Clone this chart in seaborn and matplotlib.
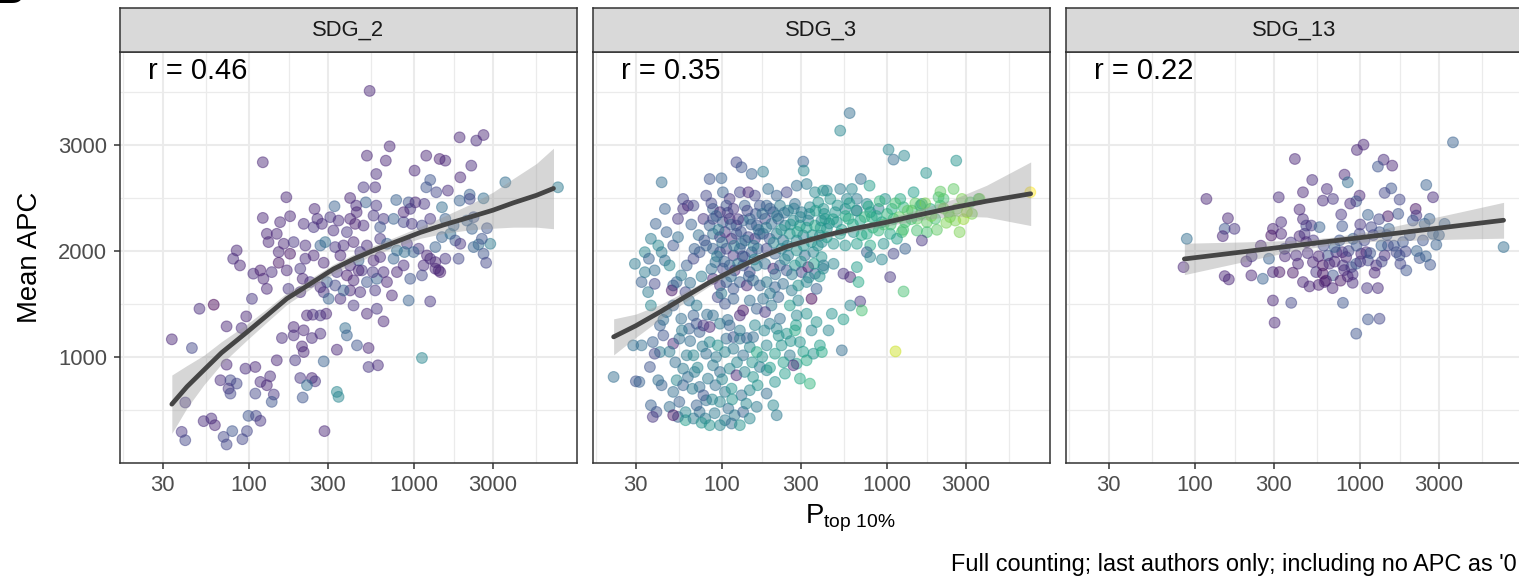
import matplotlib
matplotlib.use("Agg")
import matplotlib.pyplot as plt
from matplotlib.ticker import NullFormatter
import seaborn as sns
import pandas as pd

# ---- data ----
facet_names = ["SDG_2", "SDG_3", "SDG_13"]
r_labels = ["r = 0.46", "r = 0.35", "r = 0.22"]

sdg2_x = [537, 1884, 2377, 2630, 710, 517, 673, 121, 1183, 1425,
          1543, 1005, 2217, 1902, 589, 1250, 1183, 493, 580, 3565,
          7430, 1361, 1600, 2168, 2168, 2630, 168, 409, 509, 589,
          778, 925, 1016, 1151, 1473, 1884, 249, 329, 445, 121,
          177, 154, 214, 246, 276, 310, 348, 409, 439, 493,
          567, 652, 750, 863, 968, 1250, 1543, 1733, 2240, 2761,
          128, 147, 162, 131, 186, 219, 270, 289, 332, 373,
          429, 517, 622, 684, 786, 904, 1064, 1343, 1473, 1656,
          1775, 1902, 2455, 2891, 2630, 2727, 1858, 1543, 1250, 1343,
          1140, 1439, 1114, 84, 80, 88, 106, 117, 122, 137,
          169, 177, 151, 204, 219, 234, 211, 283, 296, 340,
          391, 429, 482, 517, 594, 652, 684, 786, 863, 946,
          128, 104, 173, 204, 283, 303, 357, 409, 471, 580,
          733, 429, 517, 594, 652, 925, 1250, 61, 50, 96,
          73, 90, 34, 45, 186, 214, 158, 186, 240, 270,
          209, 214, 224, 243, 270, 293, 382, 391, 450, 529,
          340, 1114, 529, 603, 190, 147, 109, 95, 73, 283,
          134, 117, 128, 67, 77, 75, 77, 84, 204, 240,
          251, 224, 340, 348, 109, 141, 137, 211, 41, 53,
          59, 62, 39, 41, 99, 110, 117, 79, 70, 73,
          91, 97, 286, 1195, 1343, 1406, 2291, 2570, 2291, 2085,
          991, 873, 750, 622, 567, 460, 471, 357, 409, 460,
          561, 246, 373, 332, 270, 151, 259, 448, 324, 391,
          946, 1114, 622, 863]
sdg2_y = [3510, 3072, 3041, 3094, 2987, 2899, 2852, 2837, 2899, 2868,
          2852, 2758, 2805, 2695, 2726, 2670, 2601, 2601, 2601, 2648,
          2601, 2554, 2570, 2532, 2491, 2497, 2507, 2500, 2459, 2428,
          2481, 2459, 2459, 2444, 2413, 2475, 2397, 2422, 2428, 2312,
          2328, 2272, 2256, 2225, 2256, 2319, 2287, 2303, 2256, 2240,
          2334, 2303, 2303, 2272, 2256, 2303, 2303, 2240, 2209, 2215,
          2162, 2162, 2068, 2084, 2084, 2052, 2052, 2084, 2037, 2052,
          2084, 2052, 2115, 2068, 2005, 2068, 2021, 2037, 2131, 2162,
          2099, 2068, 2062, 2068, 1974, 1889, 1927, 1927, 1927, 1833,
          1864, 1801, 1770, 2005, 1927, 1864, 1786, 1817, 1738, 1801,
          1817, 1974, 1889, 1833, 1927, 1707, 1738, 1889, 1707, 1801,
          1770, 1723, 1817, 1707, 1738, 1801, 1707, 1801, 1864, 1738,
          1643, 1549, 1643, 1612, 1612, 1549, 1549, 1628, 1612, 1628,
          1581, 1486, 1408, 1455, 1336, 1533, 1524, 1493, 1455, 1383,
          1289, 1273, 1167, 1085, 1283, 1252, 1179, 1204, 1179, 1220,
          1100, 1047, 1392, 1399, 1392, 1408, 1273, 1204, 1110, 1085,
          1069, 991, 906, 922, 969, 969, 906, 890, 928, 959,
          818, 765, 734, 781, 781, 702, 655, 749, 802, 802,
          771, 734, 671, 624, 655, 646, 577, 618, 571, 395,
          420, 357, 294, 215, 445, 445, 398, 301, 247, 175,
          225, 301, 301, 1958, 1895, 1817, 2037, 2115, 2319, 2287,
          1990, 1990, 1927, 1943, 1911, 1911, 1990, 1958, 1864, 1817,
          1801, 1958, 1628, 1675, 1659, 1990, 2303, 2366, 2193, 2178,
          2397, 2240, 2225, 2366]
sdg2_c = [.10, .10, .12, .10, .10, .10, .10, .10, .10, .08,
          .10, .10, .12, .10, .12, .25, .25, .15, .12, .35,
          .40, .20, .12, .30, .20, .35, .10, .10, .30, .15,
          .30, .25, .10, .15, .35, .30, .10, .30, .12, .10,
          .10, .10, .12, .15, .12, .15, .12, .10, .08, .12,
          .15, .15, .30, .20, .15, .15, .30, .30, .30, .25,
          .10, .10, .10, .10, .15, .12, .30, .35, .15, .12,
          .10, .12, .15, .30, .35, .15, .15, .30, .30, .35,
          .25, .15, .35, .40, .25, .20, .20, .15, .12, .10,
          .12, .08, .20, .10, .12, .10, .12, .08, .10, .12,
          .10, .05, .05, .15, .12, .15, .10, .10, .30, .15,
          .08, .10, .15, .25, .30, .12, .10, .10, .12, .25,
          .10, .15, .15, .12, .15, .30, .12, .10, .12, .15,
          .10, .15, .10, .15, .10, .30, .15, .00, .12, .10,
          .10, .12, .10, .20, .10, .10, .12, .12, .12, .12,
          .10, .10, .10, .12, .15, .10, .35, .30, .25, .10,
          .10, .45, .15, .12, .15, .10, .10, .12, .10, .30,
          .12, .12, .10, .12, .20, .15, .20, .20, .15, .10,
          .15, .35, .45, .45, .20, .15, .25, .25, .15, .12,
          .12, .10, .15, .20, .25, .20, .15, .25, .20, .20,
          .20, .20, .10, .10, .10, .10, .30, .25, .25, .30,
          .30, .35, .30, .12, .10, .30, .15, .10, .12, .10,
          .15, .10, .30, .20, .12, .10, .12, .10, .12, .15,
          .15, .20, .25, .10]

sdg3_x = [22, 29.6, 34, 32.5, 34, 39, 35.6, 39, 30, 31.5,
          28.9, 32.5, 38, 42, 39, 36.5, 37, 40, 38, 43,
          41, 37, 43, 39.6, 37, 36, 41, 43, 45, 48,
          50.5, 54, 58, 62, 67, 54, 46, 50.5, 49.5, 53,
          56.5, 61, 67, 73, 80, 60, 63, 70, 67, 56.5,
          50.5, 46, 42, 44, 50.5, 55, 63, 70, 73, 61,
          67, 58, 62, 68, 53, 50.5, 55, 48, 54, 50.5,
          60, 67, 73, 70, 80, 79, 84, 73, 77, 82,
          58, 84, 80, 45, 58, 84, 99, 80, 77, 84,
          122, 131, 151, 177, 101, 111, 128, 144, 158, 88,
          97, 106, 117, 137, 169, 88, 101, 111, 122, 134,
          147, 162, 88, 97, 104, 114, 122, 131, 144, 158,
          169, 88, 97, 106, 117, 128, 137, 151, 164, 91,
          101, 111, 119, 134, 147, 162, 88, 97, 106, 117,
          128, 141, 154, 169, 94, 104, 117, 134, 128, 147,
          162, 88, 97, 111, 84, 77, 106, 117, 128, 141,
          154, 94, 104, 117, 134, 147, 162, 88, 97, 111,
          122, 137, 154, 169, 91, 104, 114, 131, 147, 164,
          97, 109, 119, 134, 147, 104, 114, 97, 128, 162,
          186, 214, 310, 312, 190, 214, 246, 283, 325, 365,
          409, 186, 204, 224, 251, 276, 303, 340, 382, 182,
          199, 219, 240, 270, 296, 332, 365, 400, 177, 194,
          214, 234, 257, 283, 310, 348, 391, 186, 209, 229,
          251, 283, 317, 357, 400, 182, 204, 224, 246, 276,
          303, 332, 365, 409, 186, 209, 234, 264, 289, 325,
          348, 373, 177, 199, 219, 257, 289, 325, 182, 194,
          214, 224, 246, 283, 276, 296, 348, 373, 186, 209,
          229, 257, 283, 270, 325, 357, 391, 186, 209, 240,
          296, 340, 204, 592, 519, 1019, 1092, 1267, 2620, 1722,
          692, 782, 431, 519, 611, 452, 570, 655, 753, 972,
          1200, 1445, 1622, 2047, 2195, 2524, 411, 484, 557, 655,
          789, 887, 1068, 1256, 1412, 1586, 1824, 2096, 2356, 2644,
          2837, 3187, 3580, 421, 495, 583, 686, 807, 929, 1092,
          1285, 1514, 1740, 1954, 2280, 2585, 2744, 3261, 431, 519,
          625, 753, 887, 1042, 1227, 1514, 1740, 402, 473, 557,
          655, 789, 951, 1146, 1285, 1622, 1092, 753, 789, 929,
          655, 473, 411, 543, 597, 1042, 670, 1256, 686, 597,
          702, 462, 543, 441, 531, 1123, 402, 7360, 3630, 3041,
          65, 72, 78, 86, 92, 95, 100, 108, 113, 118,
          125, 130, 138, 142, 150, 155, 160, 166, 93, 103,
          113, 125, 133, 145, 157, 86, 75, 68, 64, 99,
          175, 185, 195, 205, 215, 228, 238, 248, 260, 272,
          285, 298, 312, 325, 338, 352, 368, 380, 395, 415,
          430, 445, 240, 265, 300, 335, 360, 390, 210, 195,
          470, 500, 530, 560, 590, 620, 650, 700, 730, 770,
          820, 860, 900, 950, 1000, 1050, 1120, 1180, 1250, 1330,
          1400, 1480, 1600, 1700, 1850, 2000, 2200, 2400, 2900, 2100,
          44, 48, 52, 57, 64, 66, 71, 76, 81, 87,
          92, 100, 108, 115, 123, 128, 140, 152, 158, 175,
          180, 195, 220, 235, 260, 280, 310, 60, 75, 90]
sdg3_y = [812, 1879, 1989, 1707, 1800, 1817, 1612, 1690, 771, 765,
          1110, 1110, 1141, 1047, 1031, 906, 545, 482, 435, 734,
          781, 1486, 2648, 2256, 2115, 1927, 2052, 1989, 1911, 1864,
          2052, 2131, 2397, 2428, 2428, 2303, 2178, 1675, 1628, 1707,
          1770, 1864, 1927, 1989, 2052, 1612, 1533, 1486, 1392, 1361,
          1486, 1424, 1298, 1204, 1126, 1173, 1267, 1314, 1236, 1016,
          1016, 890, 812, 859, 781, 671, 577, 530, 435, 451,
          404, 420, 482, 545, 592, 420, 357, 718, 639, 796,
          734, 1141, 1031, 2397, 2491, 2679, 2686, 2522, 2303, 2240,
          2837, 2790, 2727, 2748, 2554, 2491, 2554, 2554, 2522, 2397,
          2366, 2428, 2397, 2428, 2428, 2303, 2272, 2303, 2240, 2287,
          2303, 2240, 2162, 2131, 2178, 2115, 2162, 2068, 2131, 2115,
          2162, 2021, 1989, 2021, 1958, 2021, 1943, 1989, 2021, 1895,
          1833, 1864, 1817, 1864, 1801, 1864, 1738, 1675, 1707, 1643,
          1707, 1675, 1723, 1675, 1565, 1502, 1549, 1439, 1392, 1533,
          1455, 1392, 1314, 1298, 1283, 1298, 1173, 1188, 1173, 1179,
          1188, 1110, 1047, 1078, 1016, 1094, 1047, 922, 859, 890,
          828, 859, 812, 906, 734, 671, 702, 639, 687, 734,
          577, 514, 451, 482, 420, 404, 373, 357, 357, 530,
          655, 451, 2843, 2758, 2585, 2522, 2554, 2616, 2632, 2554,
          2570, 2428, 2366, 2428, 2381, 2444, 2366, 2413, 2459, 2303,
          2256, 2303, 2240, 2287, 2240, 2287, 2240, 2287, 2162, 2115,
          2162, 2099, 2162, 2099, 2146, 2084, 2146, 2021, 1974, 2021,
          1958, 2005, 1958, 1989, 1943, 1879, 1833, 1864, 1817, 1864,
          1801, 1848, 1786, 1833, 1707, 1659, 1690, 1628, 1675, 1707,
          1549, 1643, 1549, 1486, 1565, 1486, 1533, 1408, 1424, 1314,
          1267, 1361, 1220, 1392, 1251, 1141, 1251, 1330, 1110, 1031,
          1110, 1016, 937, 922, 969, 1031, 1110, 875, 765, 843,
          796, 749, 545, 3301, 3135, 2956, 2862, 2899, 2852, 2736,
          2679, 2616, 2570, 2585, 2585, 2491, 2491, 2491, 2444, 2491,
          2491, 2554, 2444, 2507, 2491, 2585, 2397, 2366, 2397, 2381,
          2366, 2397, 2397, 2413, 2381, 2428, 2397, 2428, 2366, 2397,
          2491, 2459, 2491, 2303, 2272, 2303, 2287, 2319, 2272, 2303,
          2272, 2303, 2272, 2303, 2266, 2287, 2178, 2350, 2209, 2162,
          2178, 2162, 2193, 2162, 2178, 2193, 2178, 2084, 2068, 2052,
          2068, 2052, 2068, 2115, 2021, 2099, 1974, 1989, 1943, 1920,
          1848, 1879, 1864, 1786, 1754, 1754, 1707, 1618, 1524, 1486,
          1439, 1408, 1355, 1251, 1063, 1053, 1047, 2554, 2491, 2366,
          2250, 2150, 2100, 2450, 2330, 2200, 2080, 2360, 2250, 2050,
          2300, 2180, 2100, 2380, 2250, 2050, 2350, 2200, 1950, 1900,
          1760, 1880, 1950, 1760, 1920, 1830, 1760, 2020, 1700, 1600,
          2350, 2220, 2400, 2080, 2330, 2200, 2360, 2050, 2250, 2400,
          2180, 2320, 2050, 2220, 2350, 2150, 2380, 2050, 2220, 2350,
          2130, 2260, 1920, 1780, 1900, 1750, 1880, 1760, 1780, 1600,
          2300, 2430, 2200, 2330, 2450, 2250, 2380, 2150, 2320, 2420,
          2220, 2330, 2470, 2250, 2350, 2250, 2450, 2320, 2200, 2380,
          2300, 2450, 2350, 2450, 2330, 2200, 2400, 2320, 2300, 2560,
          1350, 1050, 950, 1250, 1150, 700, 900, 1100, 1400, 600,
          1000, 790, 1350, 600, 950, 1250, 560, 950, 1300, 1000,
          1250, 900, 1200, 950, 1150, 1300, 1050, 480, 380, 470]
sdg3_c = [.35, .40, .45, .30, .40, .35, .40, .20, .25, .30,
          .35, .35, .30, .40, .20, .25, .30, .25, .15, .30,
          .35, .45, .35, .30, .40, .30, .45, .40, .35, .45,
          .25, .35, .15, .10, .20, .15, .30, .30, .05, .30,
          .40, .30, .20, .25, .30, .20, .35, .40, .30, .35,
          .30, .35, .30, .25, .10, .35, .30, .25, .30, .40,
          .45, .40, .35, .40, .45, .35, .30, .35, .30, .05,
          .55, .40, .35, .30, .35, .40, .50, .35, .25, .40,
          .30, .45, .35, .30, .20, .25, .30, .20, .15, .30,
          .20, .25, .30, .40, .30, .15, .20, .10, .20, .30,
          .10, .25, .15, .30, .25, .20, .25, .10, .20, .30,
          .35, .25, .35, .20, .15, .10, .25, .30, .20, .15,
          .30, .30, .25, .20, .15, .30, .35, .25, .30, .35,
          .20, .30, .10, .25, .20, .40, .10, .15, .30, .25,
          .30, .10, .35, .30, .20, .25, .30, .05, .10, .35,
          .30, .35, .40, .30, .10, .15, .35, .25, .40, .30,
          .35, .50, .45, .40, .35, .45, .60, .40, .35, .45,
          .10, .45, .50, .40, .35, .40, .50, .35, .45, .50,
          .45, .35, .40, .30, .45, .40, .35, .45, .50, .40,
          .35, .40, .30, .45, .35, .30, .20, .35, .40, .45,
          .50, .30, .25, .40, .45, .35, .40, .45, .50, .20,
          .35, .30, .40, .45, .55, .40, .60, .45, .30, .25,
          .40, .35, .50, .45, .40, .50, .45, .20, .30, .45,
          .40, .50, .35, .45, .50, .35, .10, .30, .25, .50,
          .20, .05, .30, .45, .40, .30, .35, .40, .50, .45,
          .00, .30, .35, .40, .30, .55, .45, .50, .15, .40,
          .45, .35, .50, .45, .60, .50, .45, .50, .45, .55,
          .50, .40, .55, .10, .60, .50, .55, .45, .50, .55,
          .60, .65, .45, .35, .45, .45, .35, .45, .50, .50,
          .35, .55, .45, .40, .45, .50, .45, .40, .45, .50,
          .60, .55, .50, .70, .70, .75, .50, .50, .45, .30,
          .50, .40, .60, .65, .70, .55, .60, .70, .75, .80,
          .80, .75, .70, .55, .50, .60, .55, .60, .55, .65,
          .70, .75, .75, .70, .80, .80, .80, .80, .50, .55,
          .50, .60, .65, .60, .70, .70, .70, .45, .50, .50,
          .55, .60, .50, .55, .30, .15, .20, .30, .45, .45,
          .55, .45, .40, .15, .10, .15, .60, .70, .15, .45,
          .70, .50, .55, .45, .35, .92, .60, 1.0, .80, .85,
          .30, .35, .25, .20, .30, .40, .35, .20, .30, .40,
          .15, .25, .35, .20, .30, .40, .25, .35, .40, .30,
          .35, .40, .20, .30, .45, .35, .40, .30, .35, .40,
          .35, .40, .30, .45, .40, .50, .35, .45, .50, .40,
          .55, .45, .50, .55, .45, .50, .55, .50, .55, .50,
          .55, .50, .45, .40, .50, .45, .55, .50, .35, .40,
          .55, .50, .55, .60, .55, .60, .55, .60, .65, .60,
          .65, .60, .65, .70, .65, .70, .70, .75, .70, .75,
          .70, .75, .75, .80, .80, .75, .80, .80, .85, .75,
          .35, .40, .35, .40, .35, .40, .45, .40, .35, .45,
          .40, .45, .35, .50, .45, .40, .45, .50, .45, .50,
          .45, .55, .50, .55, .50, .55, .55, .45, .50, .40]

sdg13_x = [3648, 1047, 955, 402, 1386, 1280, 1563, 803, 841, 512,
           628, 450, 2513, 1543, 117, 321, 594, 684, 991, 1733,
           2761, 1406, 946, 869, 429, 767, 1114, 2168, 2188, 1473,
           158, 151, 173, 147, 89, 296, 332, 289, 332, 429,
           471, 505, 567, 460, 778, 1167, 1309, 1493, 2085, 2455,
           2630, 3246, 2761, 2891, 7391, 204, 151, 160, 219, 85,
           257, 280, 296, 324, 391, 348, 409, 450, 493, 517,
           541, 594, 594, 608, 684, 637, 716, 778, 822, 786,
           883, 946, 1014, 1089, 1114, 1250, 1222, 1406, 1473, 1656,
           1733, 1884, 1902, 2291, 2655, 1815, 1343, 904, 991, 700,
           471, 1280, 296, 382, 786, 1114, 1309, 946, 303,
           350, 380, 420, 480, 520, 560, 600, 650, 700, 750,
           800, 850, 900, 950, 1000, 1060, 1150, 1200, 1350, 1450,
           1600, 1750, 2000, 2200, 2400, 620, 560, 680, 900, 1000,
           1300, 450, 250, 220, 1700, 2500, 3000, 760, 840, 1100]
sdg13_y = [3025, 3003, 2953, 2868, 2861, 2796, 2805, 2720, 2648, 2670,
           2585, 2554, 2623, 2591, 2491, 2507, 2475, 2491, 2522, 2485,
           2507, 2548, 2469, 2447, 2391, 2344, 2341, 2397, 2334, 2328,
           2309, 2209, 2209, 2140, 2115, 2209, 2272, 2146, 2162, 2140,
           2240, 2240, 2225, 2162, 2234, 2225, 2178, 2209, 2287, 2256,
           2303, 2256, 2162, 2059, 2037, 1901, 1763, 1732, 1770, 1848,
           1738, 1927, 1801, 1801, 1795, 2021, 1958, 1707, 1666, 1895,
           1801, 1864, 1786, 1707, 1770, 1958, 1989, 1989, 1943, 1864,
           1848, 1879, 1974, 1989, 1911, 1864, 1795, 1958, 2052, 1989,
           1958, 1996, 1817, 1933, 1870, 2084, 2052, 2115, 2162, 2037,
           2084, 1650, 1533, 1511, 1511, 1355, 1361, 1220, 1324,
           1950, 2080, 1880, 1980, 2100, 1950, 2050, 1880, 1900, 2100,
           1820, 2000, 1780, 2050, 1900, 2100, 1980, 2150, 1900, 2150,
           2050, 1880, 2150, 2000, 2100, 1720, 1680, 1650, 1700, 2250,
           2300, 2300, 2050, 1950, 2350, 1950, 2150, 1720, 1760, 1650]
sdg13_c = [.30, .10, .10, .10, .12, .25, .10, .10, .35, .12,
           .12, .10, .30, .25, .10, .12, .12, .15, .10, .20,
           .12, .20, .25, .12, .10, .15, .30, .05, .15, .05,
           .10, .25, .15, .10, .35, .10, .12, .05, .10, .10,
           .20, .15, .30, .15, .25, .20, .25, .30, .25, .30,
           .30, .30, .30, .30, .35, .10, .10, .10, .10, .10,
           .30, .30, .12, .05, .05, .20, .12, .10, .10, .10,
           .15, .05, .05, .10, .25, .25, .15, .12, .10, .15,
           .20, .25, .10, .12, .20, .12, .10, .12, .20, .20,
           .25, .20, .25, .25, .25, .25, .30, .30, .20, .30,
           .10, .12, .10, .20, .25, .25, .20, .25, .10,
           .10, .15, .10, .12, .15, .10, .20, .12, .10, .25,
           .12, .20, .15, .25, .15, .20, .25, .20, .20, .25,
           .25, .20, .25, .30, .25, .05, .08, .10, .12, .15,
           .20, .12, .10, .15, .25, .30, .30, .05, .10, .15]

# smoother (line and its band)
sdg2_fit_x = [34, 42, 53, 68, 97, 130, 169, 240, 324, 430,
              567, 800, 1090, 1500, 2180, 3000, 4000, 5500, 6980]
sdg2_fit_y = [555, 720, 875, 1040, 1235, 1400, 1550, 1700, 1830, 1925,
              2005, 2095, 2175, 2245, 2320, 2385, 2455, 2525, 2590]
sdg2_fit_se = [275, 200, 140, 105, 75, 62, 55, 48, 45, 44,
               45, 48, 55, 80, 120, 170, 230, 300, 380]

sdg3_fit_x = [22, 30, 42, 60, 84, 120, 169, 250, 429, 650,
              986, 1500, 2520, 4000, 7400]
sdg3_fit_y = [1190, 1295, 1425, 1570, 1705, 1830, 1940, 2045, 2150, 2215,
              2270, 2335, 2410, 2470, 2540]
sdg3_fit_se = [170, 110, 70, 48, 35, 28, 25, 24, 25, 28,
               35, 50, 80, 150, 300]

sdg13_fit_x = [86, 200, 400, 684, 1200, 2000, 4000, 7390]
sdg13_fit_y = [1925, 1994, 2051, 2095, 2141, 2183, 2240, 2290]
sdg13_fit_se = [148, 92, 49, 35, 50, 82, 127, 169]

x_breaks = [30, 100, 300, 1000, 3000]
x_minor = [17.32, 54.77, 173.2, 547.7, 1732, 5477]
y_breaks = [1000, 2000, 3000]
y_minor = [500, 1500, 2500, 3500]

# ---- style ----
sns.set_theme(style="white")
plt.rcParams['font.family'] = ['Liberation Sans', 'DejaVu Sans']
plt.rcParams['mathtext.fontset'] = 'custom'
plt.rcParams['mathtext.rm'] = 'Liberation Sans'
plt.rcParams['mathtext.it'] = 'Liberation Sans:italic'

W, H = 1519, 578
fig = plt.figure(figsize=(W / 100, H / 100), dpi=100)

def fx(px):
    return px / W

def fy(py):
    return 1 - py / H

panel_left = [120, 593, 1066]
panel_w = 457
p_top, p_bot, s_top = 52, 462.5, 8

points = [(sdg2_x, sdg2_y, sdg2_c), (sdg3_x, sdg3_y, sdg3_c), (sdg13_x, sdg13_y, sdg13_c)]
fits = [(sdg2_fit_x, sdg2_fit_y, sdg2_fit_se),
        (sdg3_fit_x, sdg3_fit_y, sdg3_fit_se),
        (sdg13_fit_x, sdg13_fit_y, sdg13_fit_se)]

tick_size = 15.8
dark = '#333333'

for i in range(3):
    left = panel_left[i]
    ax = fig.add_axes([fx(left), fy(p_bot), panel_w / W, (p_bot - p_top) / H])
    strip = fig.add_axes([fx(left), fy(p_top), panel_w / W, (p_top - s_top) / H])

    px, py, pc = points[i]
    df = pd.DataFrame({'ptop': px, 'apc': py, 'col': pc})
    sns.scatterplot(data=df, x='ptop', y='apc', hue='col', palette='viridis',
                    hue_norm=(0, 1), s=60, alpha=0.47, edgecolor='face',
                    linewidth=0.8, legend=False, ax=ax, zorder=2)

    fxs, fys, fse = fits[i]
    lo = [a - b for a, b in zip(fys, fse)]
    hi = [a + b for a, b in zip(fys, fse)]
    ax.fill_between(fxs, lo, hi, color='#999999', alpha=0.4, lw=0, zorder=3)
    sns.lineplot(x=fxs, y=fys, color='#454545', lw=3.4, ax=ax, zorder=4)

    ax.set_xscale('log')
    ax.set_xlim(16.5, 9690)
    ax.set_ylim(5, 3877)
    ax.set_xticks(x_breaks)
    ax.set_xticklabels([str(v) for v in x_breaks])
    ax.set_xticks(x_minor, minor=True)
    ax.xaxis.set_minor_formatter(NullFormatter())
    ax.set_yticks(y_breaks)
    ax.set_yticklabels([str(v) for v in y_breaks])
    ax.set_yticks(y_minor, minor=True)
    ax.grid(which='major', color='#EBEBEB', lw=1.5)
    ax.grid(which='minor', color='#EBEBEB', lw=0.9)
    ax.set_axisbelow(True)
    ax.tick_params(which='minor', length=0)
    ax.tick_params(which='major', length=4.3, width=1.1, color=dark,
                   labelsize=tick_size, labelcolor='#4D4D4D', pad=5,
                   bottom=True, left=(i == 0), labelleft=(i == 0))
    for sp in ax.spines.values():
        sp.set_color(dark)
        sp.set_linewidth(1.1)
    ax.set_xlabel('')
    ax.set_ylabel('')
    ax.text(24.5, 3700, r_labels[i], fontsize=21, ha='left', va='center',
            color='black', zorder=5)

    strip.set_facecolor('#D9D9D9')
    strip.set_xticks([])
    strip.set_yticks([])
    for sp in strip.spines.values():
        sp.set_color(dark)
        sp.set_linewidth(1.1)
    strip.text(0.5, 0.5, facet_names[i], transform=strip.transAxes,
               ha='center', va='center', fontsize=tick_size, color='#1A1A1A')

fig.text(fx(30), fy(257), 'Mean APC', rotation=90, ha='center', va='center',
         fontsize=19.8, color='black')
fig.text(fx(850), fy(518), r'$\mathrm{P}_{\mathrm{top\ 10\%}}$', ha='center',
         va='center', fontsize=19.8, color='black')
# caption: only the part visible in the (cropped) reference, kept inside the frame
fig.text(fx(1517), fy(565), "Full counting; last authors only; including no APC as '0",
         ha='right', va='center', fontsize=16.9, color='black')
fig.text(fx(-5), fy(3), 'B', fontsize=28, fontweight='bold', ha='left',
         va='baseline', color='black')

fig.savefig('out.png', dpi=100)
